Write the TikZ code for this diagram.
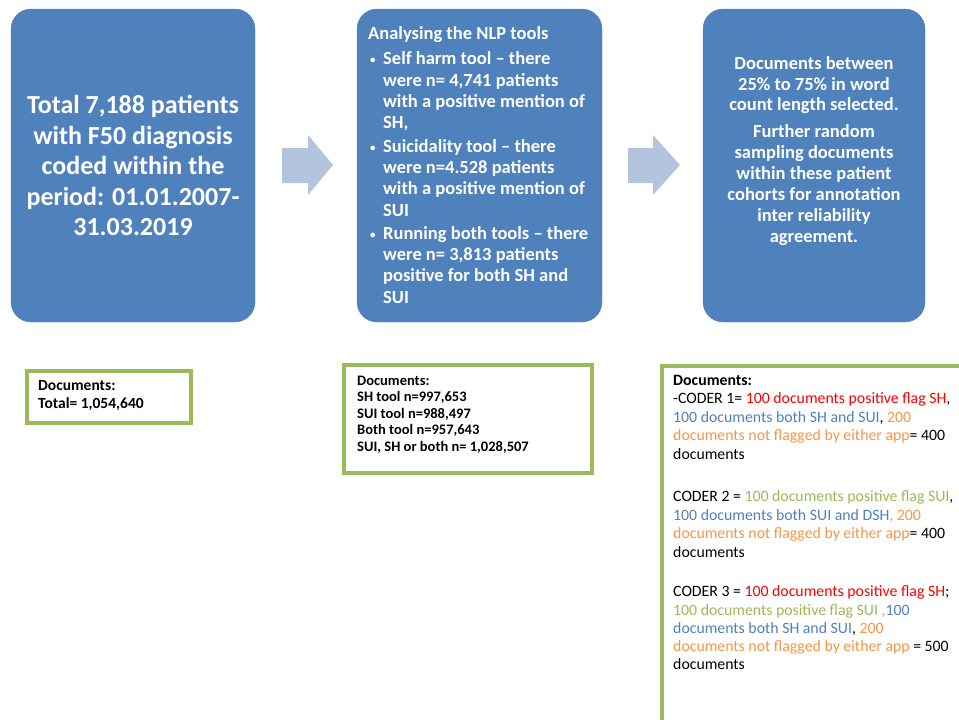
\documentclass[tikz,border=0pt]{standalone}
\usepackage{fontspec}
\setmainfont{Carlito}
\definecolor{boxblue}{HTML}{4F81BD}
\definecolor{arrowblue}{HTML}{B3C4DF}
\definecolor{docgreen}{HTML}{9BBB59}
\definecolor{tred}{HTML}{FF0000}
\definecolor{tblue}{HTML}{4F81BD}
\definecolor{torange}{HTML}{F79646}
\definecolor{tgreen}{HTML}{9BBB59}
\newcommand{\bul}{\hspace*{2pt}\makebox[13pt][l]{\raisebox{1pt}{\fontsize{11}{11}\selectfont\textbullet}}}
\newcommand{\ind}{\hspace*{15pt}}
\begin{document}
\begin{tikzpicture}[x=1pt,y=-1pt,
  bluebox/.style={fill=boxblue, draw=boxblue, rounded corners=20pt, inner sep=0pt},
  docbox/.style={draw=docgreen, line width=3.2pt, fill=white, inner sep=0pt},
  blockarrow/.style={fill=arrowblue, draw=none},
  whitetext/.style={text=white, inner sep=0pt, font=\bfseries},
  doctext/.style={text=black, inner sep=0pt, align=left, anchor=north west}]
\useasboundingbox (0,0) rectangle (959,720);
\clip (0,0) rectangle (959,720);
% blue boxes
\node[bluebox, minimum width=244pt, minimum height=313pt] (b1) at (133,165.5) {};
\node[bluebox, minimum width=245pt, minimum height=313pt] (b2) at (479.5,165.5) {};
\node[bluebox, minimum width=222pt, minimum height=313pt] (b3) at (814,165.5) {};
% block arrows
\path[blockarrow] (282,148) -- (308,148) -- (308,135) -- (333,165) -- (308,195) -- (308,183) -- (282,183) -- cycle;
\path[blockarrow] (628,148) -- (653,148) -- (653,135) -- (680,165) -- (653,195) -- (653,183) -- (628,183) -- cycle;
% texts in blue boxes
\node[whitetext, align=center, font=\bfseries\fontsize{26}{30.5}\selectfont] (t1) at (133,165.5)
  {Total 7,188 patients\\with F50 diagnosis\\coded within the\\period: 01.01.2007-\\31.03.2019};
\node[whitetext, align=left, anchor=north west, font=\bfseries\fontsize{18.5}{21.3}\selectfont] (t2) at (368,26)
  {Analysing the NLP tools\\[4.5pt]
   \bul Self harm tool – there\\
   \ind were n= 4,741 patients\\
   \ind with a positive mention of\\
   \ind SH,\\[2pt]
   \bul Suicidality tool – there\\
   \ind were n=4.528 patients\\
   \ind with a positive mention of\\
   \ind SUI\\[2pt]
   \bul Running both tools – there\\
   \ind were n= 3,813 patients\\
   \ind positive for both SH and\\
   \ind SUI};
\node[whitetext, align=center, anchor=north, font=\bfseries\fontsize{18.5}{20.9}\selectfont] (t3) at (814,56)
  {Documents between\\25\% to 75\% in word\\count length selected.\\[6pt]
   Further random\\sampling documents\\within these patient\\cohorts for annotation\\inter reliability\\agreement.};
% document boxes
\node[docbox, minimum width=164pt, minimum height=52pt] (d1) at (109,397) {};
\node[docbox, minimum width=248pt, minimum height=108pt] (d2) at (468,419) {};
\node[docbox, minimum width=330pt, minimum height=380pt] (d3) at (827,556) {};
\node[doctext, font=\bfseries\fontsize{15.5}{18}\selectfont] (x1) at (38,380)
  {Documents:\\Total= 1,054,640};
\node[doctext, font=\bfseries\fontsize{14.5}{16.5}\selectfont] (x2) at (357,375.5)
  {Documents:\\SH tool n=997,653\\SUI tool n=988,497\\Both tool n=957,643\\SUI, SH or both n= 1,028,507};
\node[doctext, font=\fontsize{15.8}{18.5}\selectfont] (x3) at (673,375)
  {\textbf{Documents:}\\
   -CODER 1= \textcolor{tred}{100 documents positive flag SH},\\
   \textcolor{tblue}{100 documents both SH and SUI}, \textcolor{torange}{200}\\
   \textcolor{torange}{documents not flagged by either app}= 400\\
   documents\\[24pt]
   CODER 2 = \textcolor{tgreen}{100 documents positive flag SUI},\\
   \textcolor{tblue}{100 documents both SUI and DSH}\textcolor{torange}{, 200}\\
   \textcolor{torange}{documents not flagged by either app}= 400\\
   documents\\[21pt]
   CODER 3 = \textcolor{tred}{100 documents positive flag SH};\\[-0.3pt]
   \textcolor{tgreen}{100 documents positive flag SUI ,}\textcolor{tblue}{100}\\[-0.3pt]
   \textcolor{tblue}{documents both SH and SUI}, \textcolor{torange}{200}\\[-0.3pt]
   \textcolor{torange}{documents not flagged by either app }= 500\\[-0.3pt]
   documents};
\end{tikzpicture}
\end{document}
